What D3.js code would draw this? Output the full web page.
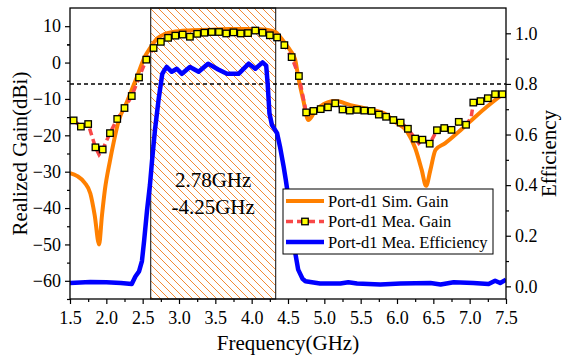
<!DOCTYPE html>
<html>
<head>
<meta charset="utf-8">
<script src="https://cdn.jsdelivr.net/npm/d3@7"></script>
<style>
  body { margin: 0; background: #fff; }
  svg text { font-family: 'Liberation Serif', 'Times New Roman', serif; fill: #000; }
</style>
</head>
<body>
<div id="chart"></div>
<script>
// simulated realized gain (dBi)
const simFreq = [1.5, 1.6, 1.7, 1.78, 1.84, 1.9, 1.94, 1.98, 2.05, 2.1, 2.17, 2.28, 2.42, 2.53, 2.6, 2.7, 2.8, 2.92, 3.1, 3.4, 3.7, 4.0, 4.2, 4.33, 4.39, 4.46, 4.53, 4.6, 4.64, 4.71, 4.78, 4.86, 4.94, 5.15, 5.36, 5.63, 5.86, 5.95, 6.14, 6.25, 6.34, 6.4, 6.46, 6.53, 6.66, 6.85, 7.03, 7.24, 7.45, 7.5];
const simGain = [-30.4, -31.2, -33, -36, -42, -50, -42, -35, -27, -22, -16, -11, -4, 1.6, 3.9, 6.6, 7.8, 8.4, 8.8, 9.0, 9.2, 9.2, 9.0, 8.4, 7.1, 5.3, 3.4, 0.7, -3.9, -10.3, -15.8, -13.8, -12.1, -10.6, -11.7, -12.9, -14.4, -16, -19, -23.5, -29.5, -33.9, -29.5, -24, -22.2, -19, -15.8, -12.1, -8.9, -8.4];

// measured realized gain (dBi), marker points
const meaFreq = [1.55, 1.65, 1.75, 1.85, 1.95, 2.05, 2.15, 2.25, 2.35, 2.45,
  2.55, 2.65, 2.75, 2.85, 2.95, 3.05, 3.15, 3.25, 3.35, 3.45,
  3.55, 3.65, 3.75, 3.85, 3.95, 4.05, 4.15, 4.25, 4.35, 4.45,
  4.55, 4.65, 4.75, 4.85, 4.95, 5.05, 5.15, 5.25, 5.35, 5.45,
  5.55, 5.65, 5.75, 5.85, 5.95, 6.05, 6.15, 6.25, 6.35, 6.45,
  6.55, 6.65, 6.75, 6.85, 6.95, 7.05, 7.15, 7.25, 7.35, 7.45];
const meaGain = [-15.9, -17.6, -16.9, -23.3, -23.9, -19.4, -15.5, -12.5, -9.2, -4.1,
  0.8, 4.0, 5.7, 6.8, 7.4, 7.7, 7.1, 7.9, 8.2, 8.4,
  8.4, 8.0, 8.3, 8.0, 8.1, 8.8, 8.2, 7.5, 6.9, 4.8,
  1.5, -3.7, -13.7, -13.3, -12.8, -12.3, -11.2, -12.9, -13.2, -13.0,
  -13.2, -13.3, -14.3, -14.9, -15.8, -16.5, -18.2, -20.9, -21.2, -22.3,
  -18.6, -18.0, -18.5, -16.3, -17.1, -11.0, -10.6, -9.8, -8.7, -8.7];
// extra measured samples seen on the dashed line between markers
const meaExtraFreq = [1.9, 6.3, 7.02];
const meaExtraGain = [-25.3, -22.2, -15.2];

// measured efficiency
const effFreq = [1.5, 1.78, 2.0, 2.2, 2.35, 2.4, 2.45, 2.49, 2.52, 2.56, 2.6, 2.63, 2.67, 2.72, 2.77, 2.79, 2.83, 2.9, 2.97, 3.04, 3.15, 3.27, 3.4, 3.54, 3.66, 3.82, 3.96, 4.05, 4.15, 4.2, 4.22, 4.245, 4.28, 4.35, 4.39, 4.44, 4.47, 4.53, 4.6, 4.64, 4.7, 4.74, 4.94, 5.22, 5.33, 5.45, 5.77, 6.05, 6.46, 6.6, 6.78, 7.05, 7.26, 7.35, 7.42, 7.5];
const effValue = [0.013, 0.017, 0.016, 0.013, 0.009, 0.039, 0.059, 0.1, 0.18, 0.3, 0.4, 0.5, 0.62, 0.74, 0.84, 0.85, 0.867, 0.848, 0.86, 0.84, 0.867, 0.848, 0.88, 0.857, 0.84, 0.84, 0.88, 0.86, 0.885, 0.872, 0.8, 0.683, 0.637, 0.605, 0.552, 0.473, 0.42, 0.302, 0.132, 0.066, 0.03, 0.02, 0.011, 0.011, 0.016, 0.011, 0.007, 0.011, 0.013, 0.007, 0.016, 0.013, 0.009, 0.022, 0.013, 0.026];

const bandRange = [2.61, 4.33];
const bandLabel = ['2.78GHz', '-4.25GHz'];
const refEff = 0.8;

const xTicks = [1.5, 2.0, 2.5, 3.0, 3.5, 4.0, 4.5, 5.0, 5.5, 6.0, 6.5, 7.0, 7.5];
const gainTicks = [-60, -50, -40, -30, -20, -10, 0, 10];
const effTicks = [0.0, 0.2, 0.4, 0.6, 0.8, 1.0];
const legendLabels = ['Port-d1 Sim. Gain', 'Port-d1 Mea. Gain', 'Port-d1 Mea. Efficiency'];

const colors = {
  sim: '#ff8000',
  mea: '#f84848',
  eff: '#0000ff',
  marker: '#ffff00',
  hatch: '#f28a35',
};

const serif = "'Liberation Serif', 'Times New Roman', serif";
const W = 564, H = 358;
const margin = { top: 8, right: 58, bottom: 59, left: 70 };
const width = W - margin.left - margin.right;
const height = H - margin.top - margin.bottom;

const svg = d3.select('#chart')
  .append('svg')
  .attr('width', W)
  .attr('height', H)
  .attr('font-family', serif);

const defs = svg.append('defs');
const hs = 8;
const pat = defs.append('pattern')
  .attr('id', 'hatch')
  .attr('patternUnits', 'userSpaceOnUse')
  .attr('width', hs)
  .attr('height', hs);
pat.append('path')
  .attr('d', `M-1,-1 L${hs + 1},${hs + 1} M-1,${hs - 1} L1,${hs + 1} M${hs - 1},-1 L${hs + 1},1`)
  .attr('stroke', colors.hatch)
  .attr('stroke-width', 1);

defs.append('clipPath').attr('id', 'clip')
  .append('rect')
  .attr('width', width)
  .attr('height', height);

const g = svg.append('g')
  .attr('transform', `translate(${margin.left},${margin.top})`);

const x = d3.scaleLinear().domain([1.5, 7.5]).range([0, width]);
const yG = d3.scaleLinear().domain([-65, 15]).range([height, 0]);
const yE = d3.scaleLinear().domain([-0.05, 1.1]).range([height, 0]);

// band highlight
g.append('rect')
  .attr('x', x(bandRange[0]))
  .attr('y', 0)
  .attr('width', x(bandRange[1]) - x(bandRange[0]))
  .attr('height', height)
  .attr('fill', 'url(#hatch)')
  .attr('stroke', '#333')
  .attr('stroke-width', 1.2);

bandLabel.forEach((t, i) => {
  g.append('text')
    .attr('x', x((bandRange[0] + bandRange[1]) / 2))
    .attr('y', 187 - margin.top + i * 27)
    .attr('text-anchor', 'middle')
    .style('font-size', '21px')
    .text(t);
});

// 0.8 reference line
g.append('line')
  .attr('x1', 0)
  .attr('x2', width)
  .attr('y1', yE(refEff))
  .attr('y2', yE(refEff))
  .attr('stroke', '#000')
  .attr('stroke-width', 1.5)
  .attr('stroke-dasharray', '4,3');

const plot = g.append('g').attr('clip-path', 'url(#clip)');

const effLine = d3.line()
  .x((d, i) => x(effFreq[i]))
  .y(d => yE(d));
plot.append('path')
  .datum(effValue)
  .attr('fill', 'none')
  .attr('stroke', colors.eff)
  .attr('stroke-width', 4.5)
  .attr('stroke-linejoin', 'round')
  .attr('d', effLine);

const simLine = d3.line()
  .x((d, i) => x(simFreq[i]))
  .y(d => yG(d))
  .curve(d3.curveMonotoneX);
plot.append('path')
  .datum(simGain)
  .attr('fill', 'none')
  .attr('stroke', colors.sim)
  .attr('stroke-width', 4)
  .attr('d', simLine);

const meaPts = meaFreq.map((f, i) => [f, meaGain[i]])
  .concat(meaExtraFreq.map((f, i) => [f, meaExtraGain[i]]))
  .sort((a, b) => a[0] - b[0]);
plot.append('path')
  .datum(meaPts)
  .attr('fill', 'none')
  .attr('stroke', colors.mea)
  .attr('stroke-width', 3.5)
  .attr('stroke-dasharray', '7,4')
  .attr('d', d3.line().x(d => x(d[0])).y(d => yG(d[1])));

const ms = 6.5;
plot.selectAll('.marker')
  .data(meaGain)
  .enter()
  .append('rect')
  .attr('class', 'marker')
  .attr('x', (d, i) => x(meaFreq[i]) - ms / 2)
  .attr('y', d => yG(d) - ms / 2)
  .attr('width', ms)
  .attr('height', ms)
  .attr('fill', colors.marker)
  .attr('stroke', '#000')
  .attr('stroke-width', 1.3);

// axes
const xAxis = g.append('g')
  .attr('transform', `translate(0,${height})`)
  .call(d3.axisBottom(x).tickValues(xTicks).tickFormat(d3.format('.1f')).tickSize(5).tickPadding(7));
const xMinor = g.append('g')
  .attr('transform', `translate(0,${height})`)
  .call(d3.axisBottom(x).tickValues(xTicks.slice(0, -1).map(d => d + 0.25)).tickFormat('').tickSize(3));

const yAxis = g.append('g')
  .call(d3.axisLeft(yG).tickValues(gainTicks).tickSize(5).tickPadding(4));
const yMinor = g.append('g')
  .call(d3.axisLeft(yG).tickValues(gainTicks.map(d => d - 5).concat([5])).tickFormat('').tickSize(3));

const eAxis = g.append('g')
  .attr('transform', `translate(${width},0)`)
  .call(d3.axisRight(yE).tickValues(effTicks).tickFormat(d3.format('.1f')).tickSize(5).tickPadding(4));
const eMinor = g.append('g')
  .attr('transform', `translate(${width},0)`)
  .call(d3.axisRight(yE).tickValues(effTicks.slice(0, -1).map(d => d + 0.1)).tickFormat('').tickSize(3));

[xAxis, xMinor, yAxis, yMinor, eAxis, eMinor].forEach(a => {
  a.attr('font-family', serif).attr('font-size', 18);
  a.select('.domain').remove();
  a.selectAll('line').attr('stroke', '#000').attr('stroke-width', 1.2);
});

// frame
g.append('rect')
  .attr('width', width)
  .attr('height', height)
  .attr('fill', 'none')
  .attr('stroke', '#000')
  .attr('stroke-width', 1.3);

// axis titles
svg.append('text')
  .attr('transform', `translate(27,${margin.top + height / 2}) rotate(-90)`)
  .attr('text-anchor', 'middle')
  .style('font-size', '21px')
  .text('Realized Gain(dBi)');

svg.append('text')
  .attr('transform', `translate(556,${margin.top + height / 2}) rotate(-90)`)
  .attr('text-anchor', 'middle')
  .style('font-size', '21px')
  .text('Efficiency');

svg.append('text')
  .attr('x', margin.left + width / 2)
  .attr('y', 350)
  .attr('text-anchor', 'middle')
  .style('font-size', '21px')
  .text('Frequency(GHz)');

// legend
const lg = svg.append('g').attr('transform', 'translate(283,189)');
lg.append('rect')
  .attr('width', 210)
  .attr('height', 65)
  .attr('fill', '#fff')
  .attr('stroke', '#000')
  .attr('stroke-width', 1);

const rows = lg.selectAll('.row')
  .data(legendLabels)
  .enter()
  .append('g')
  .attr('class', 'row')
  .attr('transform', (d, i) => `translate(0,${12 + i * 20.5})`);

rows.append('line')
  .attr('x1', 3)
  .attr('x2', 41)
  .attr('stroke', (d, i) => [colors.sim, colors.mea, colors.eff][i])
  .attr('stroke-width', (d, i) => [4, 3.5, 4.5][i])
  .attr('stroke-dasharray', (d, i) => i === 1 ? '7,4' : null);

rows.filter((d, i) => i === 1)
  .append('rect')
  .attr('x', 22 - ms / 2)
  .attr('y', -ms / 2)
  .attr('width', ms)
  .attr('height', ms)
  .attr('fill', colors.marker)
  .attr('stroke', '#000')
  .attr('stroke-width', 1.3);

rows.append('text')
  .attr('x', 45)
  .attr('dy', '0.35em')
  .style('font-size', '16.5px')
  .text(d => d);
</script>
</body>
</html>
